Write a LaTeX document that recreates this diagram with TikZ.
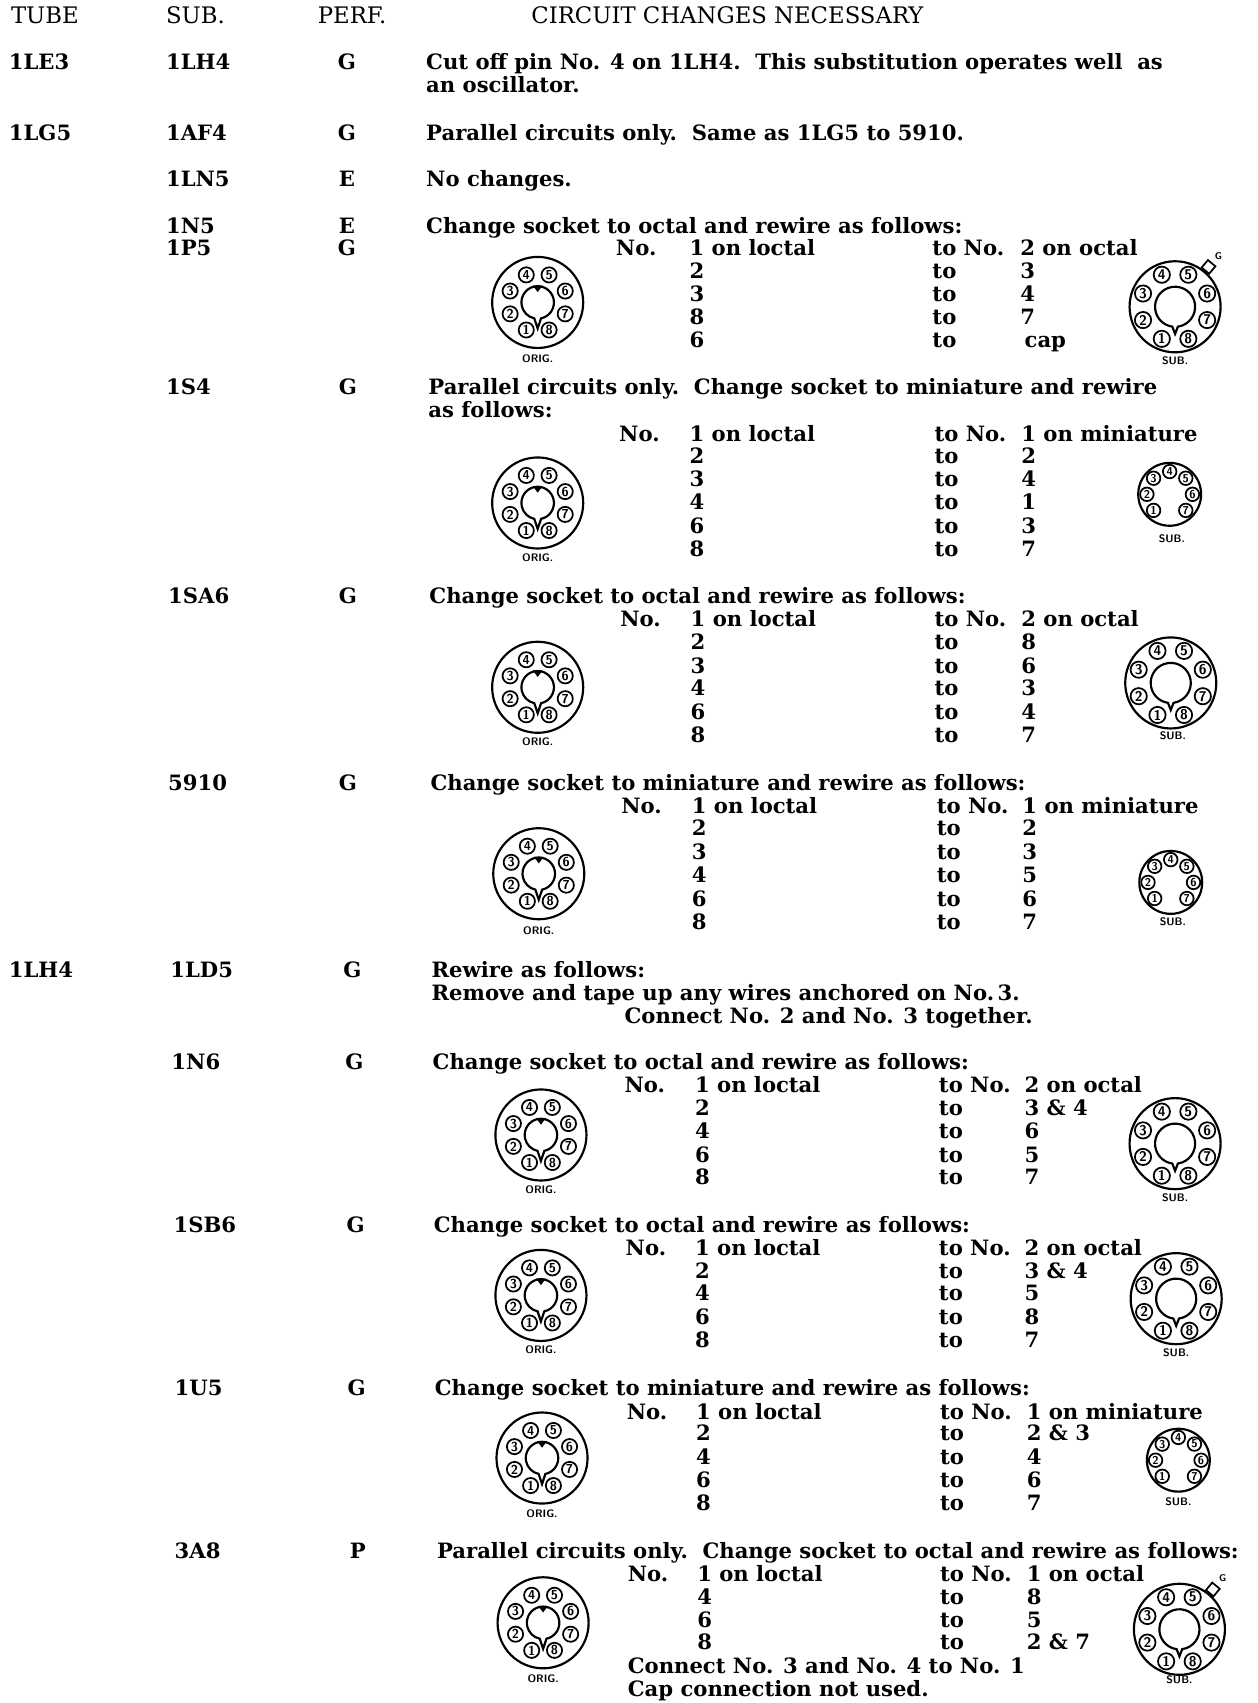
\documentclass[tikz,border=0pt]{standalone}
\usepackage{fontspec}
\setmainfont{DejaVu Serif}
\usepackage{tikz}

\tikzset{
  pinhole/.style={circle, draw, line width=1.6pt, minimum size=14pt, inner sep=0pt,
    font=\sffamily\bfseries\fontsize{12}{12}\selectfont},
  bighole/.style={pinhole, minimum size=15pt, font=\sffamily\bfseries\fontsize{13}{13}\selectfont},
  minihole/.style={pinhole, minimum size=12.5pt, font=\sffamily\bfseries\fontsize{10.5}{10.5}\selectfont},
  loctal/.pic={
    \draw[line width=2pt] (0,0) circle (42);
    \draw[line width=2pt] (-78:15) arc[start angle=-78, end angle=258, radius=15] -- (0,-24) -- cycle;
    \fill (-4.5,15.5) -- (4.5,15.5) -- (0,9.5) -- cycle;
    \node[pinhole] (-p1) at (-112.5:27.5) {1};
    \node[pinhole] (-p2) at (-157.5:27.5) {2};
    \node[pinhole] (-p3) at (157.5:27.5) {3};
    \node[pinhole] (-p4) at (112.5:27.5) {4};
    \node[pinhole] (-p5) at (67.5:27.5) {5};
    \node[pinhole] (-p6) at (22.5:27.5) {6};
    \node[pinhole] (-p7) at (-22.5:27.5) {7};
    \node[pinhole] (-p8) at (-67.5:27.5) {8};
  },
  octalsub/.pic={
    \draw[line width=2pt] (0,0) circle (42);
    \draw[line width=2pt] (-82:18.5) arc[start angle=-82, end angle=262, radius=18.5] -- (0,-25) -- cycle;
    \node[bighole] (-p1) at (-112.5:32) {1};
    \node[bighole] (-p2) at (-157.5:32) {2};
    \node[bighole] (-p3) at (157.5:32) {3};
    \node[bighole] (-p4) at (112.5:32) {4};
    \node[bighole] (-p5) at (67.5:32) {5};
    \node[bighole] (-p6) at (22.5:32) {6};
    \node[bighole] (-p7) at (-22.5:32) {7};
    \node[bighole] (-p8) at (-67.5:32) {8};
  },
  minisub/.pic={
    \draw[line width=2pt] (0,0) circle (29);
    \node[minihole] (-p1) at (-135:21) {1};
    \node[minihole] (-p2) at (180:21) {2};
    \node[minihole] (-p3) at (135:21) {3};
    \node[minihole] (-p4) at (90:21) {4};
    \node[minihole] (-p5) at (45:21) {5};
    \node[minihole] (-p6) at (0:21) {6};
    \node[minihole] (-p7) at (-45:21) {7};
  },
  gcap/.pic={
    \node[draw, line width=1.6pt, minimum size=9pt, inner sep=0pt, rotate=50] (-cap) at (50:48) {};
    \node[inner sep=0pt, font=\sffamily\bfseries\fontsize{9}{9}\selectfont] (-g) at (40,47) {G};
  },
}

\begin{document}
\begin{tikzpicture}[x=1pt, y=1pt, font=\bfseries\fontsize{19.5}{24}\selectfont,
  txt/.style={anchor=base west, inner sep=0pt},
  mid/.style={anchor=base, inner sep=0pt},
  socklabel/.style={anchor=base, inner sep=0pt, font=\sffamily\bfseries\fontsize{10}{10}\selectfont}]
\useasboundingbox (0,0) rectangle (1160,-1571);
% Heading
\node[txt, font=\mdseries\fontsize{21}{24}\selectfont] (hTube) at (10,-22) {TUBE};
\node[txt, font=\mdseries\fontsize{21}{24}\selectfont] (hSub) at (153,-22) {SUB.};
\node[txt, font=\mdseries\fontsize{21}{24}\selectfont] (hPerf) at (293,-22) {PERF.};
\node[txt, font=\mdseries\fontsize{21}{24}\selectfont] (hChg) at (490,-22) {CIRCUIT CHANGES NECESSARY};
% 1LE3
\node[txt] (tube1) at (8,-64) {1LE3};
\node[txt] (sub1) at (153,-64) {1LH4};
\node[mid] (perf1) at (320,-64) {G};
\node[txt] (chg1) at (393,-64) {Cut off pin No. 4 on 1LH4.\ \ This substitution operates well\ \ as};
\node[txt] (chg1b) at (393,-85) {an oscillator.};
% 1LG5
\node[txt] (tube2) at (8,-130) {1LG5};
\node[txt] (sub2) at (153,-130) {1AF4};
\node[mid] (perf2) at (320,-130) {G};
\node[txt] (chg2) at (393,-130) {Parallel circuits only.\ \ Same as 1LG5 to 5910.};
\node[txt] (sub3) at (153,-172) {1LN5};
\node[mid] (perf3) at (320,-172) {E};
\node[txt] (chg3) at (393,-172) {No changes.};
% 1N5 / 1P5
\node[txt] (sub4) at (153,-215) {1N5};
\node[mid] (perf4) at (320,-215) {E};
\node[txt] (chg4) at (393,-215) {Change socket to octal and rewire as follows:};
\node[txt] (sub4b) at (153,-236) {1P5};
\node[mid] (perf4b) at (320,-236) {G};
\node[txt] (no4) at (568,-236) {No.};
\node[txt] (lo4) at (636,-236) {1 on loctal};
\node[txt] (to4) at (860,-236) {to No.};
\node[txt] (oc4) at (941,-236) {2 on octal};
\node[txt] (f4a) at (636,-257) {2}; \node[txt] (t4a) at (860,-257) {to}; \node[txt] (v4a) at (941,-257) {3};
\node[txt] (f4b) at (636,-278) {3}; \node[txt] (t4b) at (860,-278) {to}; \node[txt] (v4b) at (941,-278) {4};
\node[txt] (f4c) at (636,-299) {8}; \node[txt] (t4c) at (860,-299) {to}; \node[txt] (v4c) at (941,-299) {7};
\node[txt] (f4d) at (636,-321) {6}; \node[txt] (t4d) at (860,-321) {to}; \node[txt] (v4d) at (945,-321) {cap};
\pic (o4) at (496,-279) {loctal};
\node[socklabel] (o4l) at (496,-334) {ORIG.};
\pic (s4) at (1084,-283) {octalsub};
\pic (g4) at (1084,-283) {gcap};
\node[socklabel] (s4l) at (1084,-336) {SUB.};
% 1S4
\node[txt] (sub5) at (153,-364) {1S4};
\node[mid] (perf5) at (321,-364) {G};
\node[txt] (chg5) at (395,-364) {Parallel circuits only.\ \ Change socket to miniature and rewire};
\node[txt] (chg5b) at (395,-385) {as follows:};
\node[txt] (no5) at (571,-407) {No.};
\node[txt] (lo5) at (636,-407) {1 on loctal};
\node[txt] (to5) at (862,-407) {to No.};
\node[txt] (mi5) at (942,-407) {1 on miniature};
\node[txt] (f5a) at (636,-428) {2}; \node[txt] (t5a) at (862,-428) {to}; \node[txt] (v5a) at (942,-428) {2};
\node[txt] (f5b) at (636,-449) {3}; \node[txt] (t5b) at (862,-449) {to}; \node[txt] (v5b) at (942,-449) {4};
\node[txt] (f5c) at (636,-470) {4}; \node[txt] (t5c) at (862,-470) {to}; \node[txt] (v5c) at (942,-470) {1};
\node[txt] (f5d) at (636,-492) {6}; \node[txt] (t5d) at (862,-492) {to}; \node[txt] (v5d) at (942,-492) {3};
\node[txt] (f5e) at (636,-513) {8}; \node[txt] (t5e) at (862,-513) {to}; \node[txt] (v5e) at (942,-513) {7};
\pic (o5) at (496,-464) {loctal};
\node[socklabel] (o5l) at (496,-518) {ORIG.};
\pic (s5) at (1079,-456) {minisub};
\node[socklabel] (s5l) at (1081,-500) {SUB.};
% 1SA6
\node[txt] (sub6) at (155,-557) {1SA6};
\node[mid] (perf6) at (321,-557) {G};
\node[txt] (chg6) at (396,-557) {Change socket to octal and rewire as follows:};
\node[txt] (no6) at (572,-578) {No.};
\node[txt] (lo6) at (637,-578) {1 on loctal};
\node[txt] (to6) at (862,-578) {to No.};
\node[txt] (oc6) at (942,-578) {2 on octal};
\node[txt] (f6a) at (637,-599) {2}; \node[txt] (t6a) at (862,-599) {to}; \node[txt] (v6a) at (942,-599) {8};
\node[txt] (f6b) at (637,-621) {3}; \node[txt] (t6b) at (862,-621) {to}; \node[txt] (v6b) at (942,-621) {6};
\node[txt] (f6c) at (637,-642) {4}; \node[txt] (t6c) at (862,-642) {to}; \node[txt] (v6c) at (942,-642) {3};
\node[txt] (f6d) at (637,-664) {6}; \node[txt] (t6d) at (862,-664) {to}; \node[txt] (v6d) at (942,-664) {4};
\node[txt] (f6e) at (637,-685) {8}; \node[txt] (t6e) at (862,-685) {to}; \node[txt] (v6e) at (942,-685) {7};
\pic (o6) at (496,-634) {loctal};
\node[socklabel] (o6l) at (496,-688) {ORIG.};
\pic (s6) at (1080,-630) {octalsub};
\node[socklabel] (s6l) at (1082,-682) {SUB.};
% 5910
\node[txt] (sub7) at (155,-729) {5910};
\node[mid] (perf7) at (321,-729) {G};
\node[txt] (chg7) at (397,-729) {Change socket to miniature and rewire as follows:};
\node[txt] (no7) at (573,-750) {No.};
\node[txt] (lo7) at (638,-750) {1 on loctal};
\node[txt] (to7) at (864,-750) {to No.};
\node[txt] (mi7) at (943,-750) {1 on miniature};
\node[txt] (f7a) at (638,-771) {2}; \node[txt] (t7a) at (864,-771) {to}; \node[txt] (v7a) at (943,-771) {2};
\node[txt] (f7b) at (638,-793) {3}; \node[txt] (t7b) at (864,-793) {to}; \node[txt] (v7b) at (943,-793) {3};
\node[txt] (f7c) at (638,-814) {4}; \node[txt] (t7c) at (864,-814) {to}; \node[txt] (v7c) at (943,-814) {5};
\node[txt] (f7d) at (638,-836) {6}; \node[txt] (t7d) at (864,-836) {to}; \node[txt] (v7d) at (943,-836) {6};
\node[txt] (f7e) at (638,-857) {8}; \node[txt] (t7e) at (864,-857) {to}; \node[txt] (v7e) at (943,-857) {7};
\pic (o7) at (497,-806) {loctal};
\node[socklabel] (o7l) at (497,-862) {ORIG.};
\pic (s7) at (1080,-814) {minisub};
\node[socklabel] (s7l) at (1082,-854) {SUB.};
% 1LH4
\node[txt] (tube8) at (8,-902) {1LH4};
\node[txt] (sub8) at (157,-902) {1LD5};
\node[mid] (perf8) at (325,-902) {G};
\node[txt] (chg8) at (398,-902) {Rewire as follows:};
\node[txt] (chg8b) at (398,-923) {Remove and tape up any wires anchored on No.\,3.};
\node[txt] (chg8c) at (576,-944) {Connect No. 2 and No. 3 together.};
% 1N6
\node[txt] (sub9) at (158,-987) {1N6};
\node[mid] (perf9) at (327,-987) {G};
\node[txt] (chg9) at (399,-987) {Change socket to octal and rewire as follows:};
\node[txt] (no9) at (576,-1008) {No.};
\node[txt] (lo9) at (641,-1008) {1 on loctal};
\node[txt] (to9) at (866,-1008) {to No.};
\node[txt] (oc9) at (945,-1008) {2 on octal};
\node[txt] (f9a) at (641,-1029) {2}; \node[txt] (t9a) at (866,-1029) {to}; \node[txt] (v9a) at (945,-1029) {3 \& 4};
\node[txt] (f9b) at (641,-1050) {4}; \node[txt] (t9b) at (866,-1050) {to}; \node[txt] (v9b) at (945,-1050) {6};
\node[txt] (f9c) at (641,-1072) {6}; \node[txt] (t9c) at (866,-1072) {to}; \node[txt] (v9c) at (945,-1072) {5};
\node[txt] (f9d) at (641,-1093) {8}; \node[txt] (t9d) at (866,-1093) {to}; \node[txt] (v9d) at (945,-1093) {7};
\pic (o9) at (499,-1047) {loctal};
\node[socklabel] (o9l) at (499,-1101) {ORIG.};
\pic (s9) at (1084,-1055) {octalsub};
\node[socklabel] (s9l) at (1084,-1108) {SUB.};
% 1SB6
\node[txt] (sub10) at (160,-1137) {1SB6};
\node[mid] (perf10) at (328,-1137) {G};
\node[txt] (chg10) at (400,-1137) {Change socket to octal and rewire as follows:};
\node[txt] (no10) at (577,-1158) {No.};
\node[txt] (lo10) at (641,-1158) {1 on loctal};
\node[txt] (to10) at (866,-1158) {to No.};
\node[txt] (oc10) at (945,-1158) {2 on octal};
\node[txt] (f10a) at (641,-1179) {2}; \node[txt] (t10a) at (866,-1179) {to}; \node[txt] (v10a) at (945,-1179) {3 \& 4};
\node[txt] (f10b) at (641,-1200) {4}; \node[txt] (t10b) at (866,-1200) {to}; \node[txt] (v10b) at (945,-1200) {5};
\node[txt] (f10c) at (641,-1222) {6}; \node[txt] (t10c) at (866,-1222) {to}; \node[txt] (v10c) at (945,-1222) {8};
\node[txt] (f10d) at (641,-1243) {8}; \node[txt] (t10d) at (866,-1243) {to}; \node[txt] (v10d) at (945,-1243) {7};
\pic (o10) at (499,-1195) {loctal};
\node[socklabel] (o10l) at (499,-1249) {ORIG.};
\pic (s10) at (1085,-1198) {octalsub};
\node[socklabel] (s10l) at (1085,-1251) {SUB.};
% 1U5
\node[txt] (sub11) at (161,-1287) {1U5};
\node[mid] (perf11) at (329,-1287) {G};
\node[txt] (chg11) at (401,-1287) {Change socket to miniature and rewire as follows:};
\node[txt] (no11) at (578,-1309) {No.};
\node[txt] (lo11) at (642,-1309) {1 on loctal};
\node[txt] (to11) at (867,-1309) {to No.};
\node[txt] (mi11) at (947,-1309) {1 on miniature};
\node[txt] (f11a) at (642,-1329) {2}; \node[txt] (t11a) at (867,-1329) {to}; \node[txt] (v11a) at (947,-1329) {2 \& 3};
\node[txt] (f11b) at (642,-1351) {4}; \node[txt] (t11b) at (867,-1351) {to}; \node[txt] (v11b) at (947,-1351) {4};
\node[txt] (f11c) at (642,-1372) {6}; \node[txt] (t11c) at (867,-1372) {to}; \node[txt] (v11c) at (947,-1372) {6};
\node[txt] (f11d) at (642,-1393) {8}; \node[txt] (t11d) at (867,-1393) {to}; \node[txt] (v11d) at (947,-1393) {7};
\pic (o11) at (500,-1345) {loctal};
\node[socklabel] (o11l) at (500,-1400) {ORIG.};
\pic (s11) at (1087,-1347) {minisub};
\node[socklabel] (s11l) at (1087,-1389) {SUB.};
% 3A8
\node[txt] (sub12) at (161,-1438) {3A8};
\node[mid] (perf12) at (330,-1438) {P};
\node[txt] (chg12) at (403,-1438) {Parallel circuits only.\ \ Change socket to octal and rewire as follows:};
\node[txt] (no12) at (579,-1459) {No.};
\node[txt] (lo12) at (643,-1459) {1 on loctal};
\node[txt] (to12) at (867,-1459) {to No.};
\node[txt] (oc12) at (947,-1459) {1 on octal};
\node[txt] (f12a) at (643,-1480) {4}; \node[txt] (t12a) at (867,-1480) {to}; \node[txt] (v12a) at (947,-1480) {8};
\node[txt] (f12b) at (643,-1501) {6}; \node[txt] (t12b) at (867,-1501) {to}; \node[txt] (v12b) at (947,-1501) {5};
\node[txt] (f12c) at (643,-1522) {8}; \node[txt] (t12c) at (867,-1522) {to}; \node[txt] (v12c) at (947,-1522) {2 \& 7};
\node[txt] (chg12b) at (579,-1544) {Connect No. 3 and No. 4 to No. 1};
\node[txt] (chg12c) at (579,-1565) {Cap connection not used.};
\pic (o12) at (501,-1497) {loctal};
\node[socklabel] (o12l) at (501,-1552) {ORIG.};
\pic (s12) at (1088,-1503) {octalsub};
\pic (g12) at (1088,-1503) {gcap};
\node[socklabel] (s12l) at (1088,-1553) {SUB.};
\end{tikzpicture}
\end{document}
